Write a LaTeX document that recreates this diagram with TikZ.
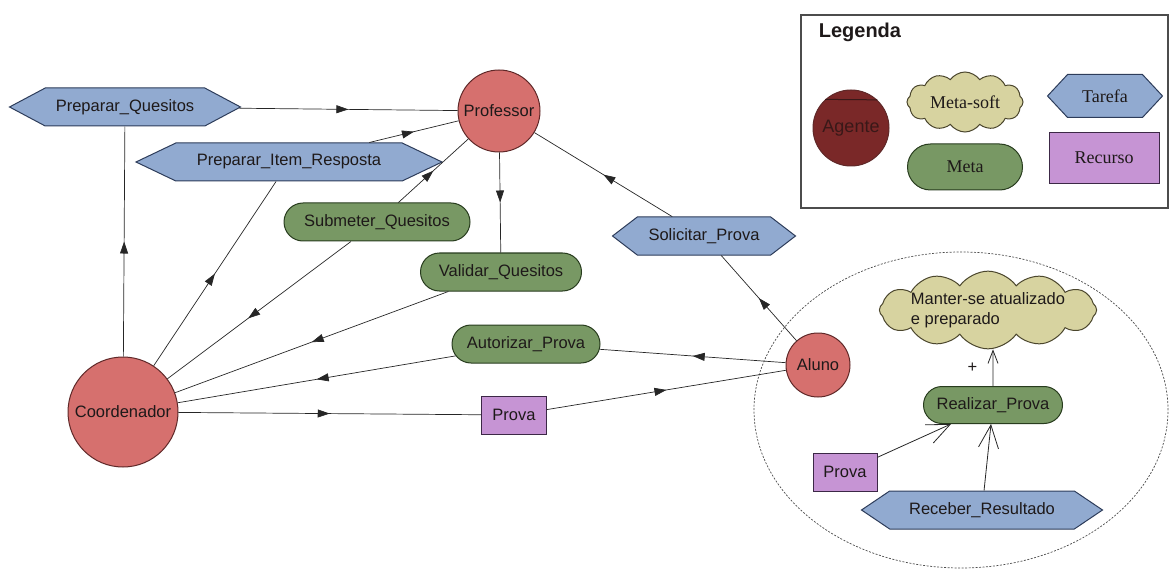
\documentclass[tikz,border=0pt]{standalone}
\usepackage{fontspec}
\setmainfont{Liberation Sans}
\newfontfamily\legfont{Liberation Serif}
\usepackage{tikz}
\usetikzlibrary{shapes.symbols,shapes.misc,decorations.markings,arrows.meta}
\definecolor{txt}{RGB}{30,25,25}
\definecolor{agfill}{RGB}{214,112,110}
\definecolor{agline}{RGB}{95,40,40}
\definecolor{agdark}{RGB}{122,40,40}
\definecolor{tafill}{RGB}{145,170,208}
\definecolor{taline}{RGB}{45,60,90}
\definecolor{mefill}{RGB}{120,152,100}
\definecolor{meline}{RGB}{40,60,30}
\definecolor{refill}{RGB}{198,148,212}
\definecolor{reline}{RGB}{60,40,70}
\definecolor{msfill}{RGB}{215,211,160}
\definecolor{msline}{RGB}{75,70,45}

\begin{document}
\begin{tikzpicture}[x=1pt,y=-1pt,
  every node/.style={font=\fontsize{16.5}{20}\selectfont, text=txt, line width=1pt},
  agente/.style={circle, draw=agline, fill=agfill, inner sep=0pt},
  tarefa/.style={signal, signal to=west and east, draw=taline, fill=tafill, inner sep=0pt, minimum height=38pt},
  meta/.style={rounded rectangle, draw=meline, fill=mefill, inner sep=0pt, minimum height=38pt},
  recurso/.style={rectangle, draw=reline, fill=refill, inner sep=0pt, minimum height=38pt},
  metasoft/.style={cloud, cloud puffs=12, cloud puff arc=110, cloud ignores aspect, draw=msline, fill=msfill, inner sep=0pt},
  legtext/.style={font=\legfont\fontsize{18}{22}\selectfont},
  dep/.style={line width=0.7pt, draw=black!85, postaction={decorate, decoration={markings, mark=at position #1 with {\arrow{Triangle[length=12pt,width=8pt]}}}}},
  dep/.default=0.5,
  contrib/.style={line width=0.8pt, draw=black!85, -{Straight Barb[length=23pt,width=20pt]}},
  contribsmall/.style={line width=0.8pt, draw=black!85, -{Straight Barb[length=13pt,width=10pt]}},
  fronteira/.style={draw=black!70, line width=0.7pt, dash pattern=on 2pt off 1.5pt},
]
\useasboundingbox (0,0) rectangle (1170,572);

\node[tarefa, minimum width=231pt, signal pointer angle=56] (prepq) at (125,107) {Preparar\_Quesitos};
\node[agente, minimum size=82pt] (prof) at (499,111) {Professor};
\node[tarefa, minimum width=306pt, signal pointer angle=51] (prepir) at (289,162) {Preparar\_Item\_Resposta};
\node[meta, minimum width=186pt] (subq) at (377,222) {Submeter\_Quesitos};
\node[meta, minimum width=161pt] (valq) at (501,272) {Validar\_Quesitos};
\node[tarefa, minimum width=183pt, signal pointer angle=75] (solp) at (704,236) {Solicitar\_Prova};
\node[meta, minimum width=148pt] (autp) at (526,344) {Autorizar\_Prova};
\node[recurso, minimum width=65pt] (prova) at (514,415) {Prova};
\node[agente, minimum size=110pt] (coord) at (123,412) {Coordenador};
\node[agente, minimum size=64pt] (aluno) at (818,365) {Aluno};

\draw[fronteira] (961,410) ellipse [x radius=207pt, y radius=158pt];
\node[metasoft, minimum width=203pt, minimum height=65pt, align=left] (manter) at (988,310) {Manter-se atualizado\\ e preparado};
\node[meta, minimum width=139pt, minimum height=37pt] (realp) at (993,405) {Realizar\_Prova};
\node[recurso, minimum width=64pt] (prova2) at (845,472) {Prova};
\node[tarefa, minimum width=241pt, signal pointer angle=68] (recr) at (982,510) {Receber\_Resultado};

\draw[dep] (prepq) -- (prof);
\draw[dep] (prepir) -- (prof);
\draw[dep] (subq) -- (prof);
\draw[dep] (prof) -- (valq);
\draw[dep] (solp) -- (prof);
\draw[dep] (aluno) -- (solp);
\draw[dep] (coord) -- (prepq);
\draw[dep] (coord) -- (prepir);
\draw[dep=0.56] (subq) -- (coord);
\draw[dep] (valq) -- (coord);
\draw[dep] (autp) -- (coord);
\draw[dep] (coord) -- (prova);
\draw[dep] (prova) -- (aluno);
\draw[dep] (aluno) -- (autp);

\draw[contribsmall] (realp) -- (realp.north |- manter.south) node[midway, left=12pt] (mais) {+};
\draw[contrib] (prova2) -- (realp);
\draw[contrib] (recr) -- (realp);

\draw[draw=black!70, line width=1.2pt] (801,15) rectangle (1168,208);
\node[font=\fontsize{20}{24}\selectfont\bfseries, anchor=west] (legenda) at (815,32) {Legenda};
\node[agente, fill=agdark, minimum size=76pt, text=agline!60!black, font=\fontsize{18}{22}\selectfont] (legag) at (851,128) {Agente};
\draw[line width=1pt, draw=agline!60!black] (legag.132.6) -- (legag.47.4);
\node[metasoft, legtext, minimum width=116pt, minimum height=60pt] (legms) at (965,102) {Meta-soft};
\node[meta, legtext, minimum width=115pt, minimum height=46pt] (legme) at (965,167) {Meta};
\node[tarefa, legtext, minimum width=115pt, minimum height=43pt, signal pointer angle=94] (legta) at (1105,96) {Tarefa};
\node[recurso, legtext, minimum width=110pt, minimum height=51pt] (legre) at (1104,158) {Recurso};
\end{tikzpicture}
\end{document}
